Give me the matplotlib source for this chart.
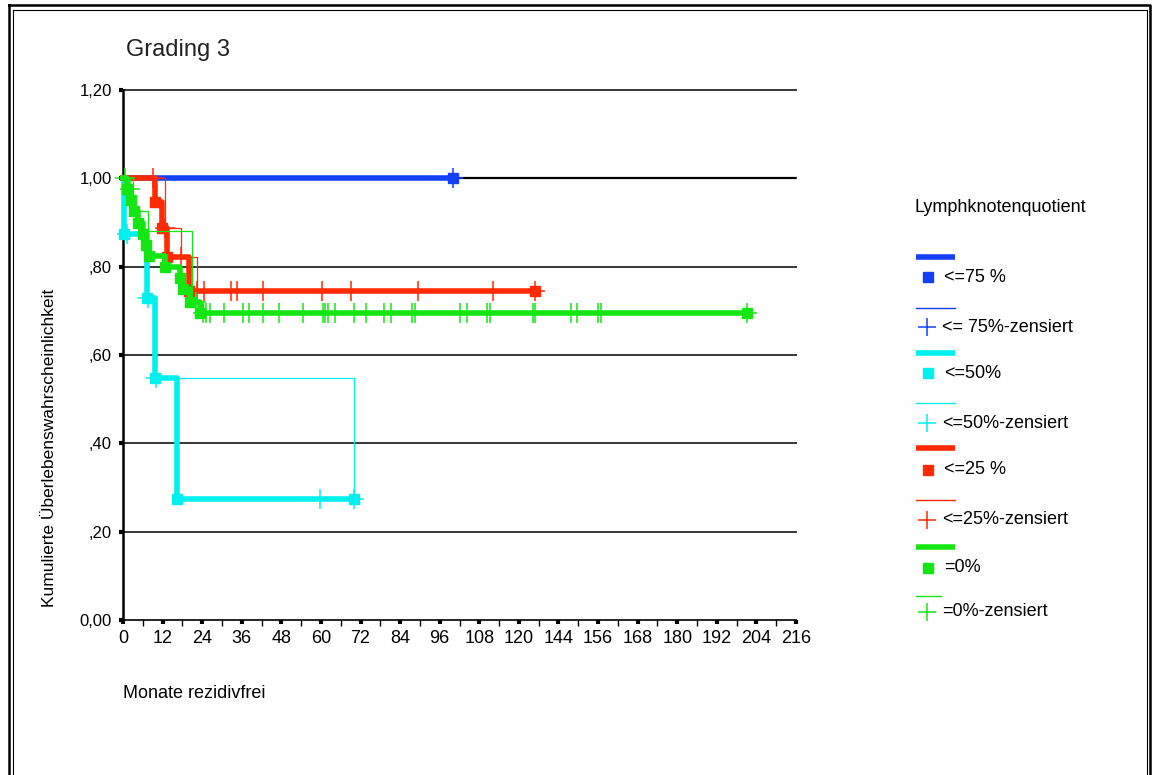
import numpy as np
import matplotlib.pyplot as plt

plt.rcParams['font.family'] = ['Liberation Sans', 'DejaVu Sans']

# Achsen
x_ticks = list(range(0, 205, 12))
x_ticklabels = ['0', '12', '24', '36', '48', '60', '72', '84', '96', '108', '120',
                '144', '156', '168', '180', '192', '204', '216']
y_ticks = [0.0, 0.2, 0.4, 0.6, 0.8, 1.0, 1.2]
y_ticklabels = ['0,00', ',20', ',40', ',60', ',80', '1,00', '1,20']

# <=75 %
blau_t = [0, 100.0]
blau_s = [1.0, 1.0]
blau_dunn_t = [0, 100.0]
blau_dunn_s = [1.0, 1.0]
blau_zens_t = [100.0]
blau_zens_s = [1.0]

# <=50%
cyan_t = [0, 0.3, 7.3, 9.8, 16.4, 70.0]
cyan_s = [1.0, 0.875, 0.729, 0.547, 0.273, 0.273]
cyan_dunn_t = [1.2, 7.6, 10.0, 70.0]
cyan_dunn_s = [0.875, 0.729, 0.547, 0.273]
cyan_zens_t = [1.2, 7.6, 10.0, 59.7, 70.0]
cyan_zens_s = [0.875, 0.729, 0.547, 0.273, 0.273]

# <=25 %
rot_t = [0, 9.7, 11.8, 13.3, 20.0, 124.8]
rot_s = [1.0, 0.947, 0.888, 0.822, 0.744, 0.744]
rot_dunn_t = [0, 9.1, 12.8, 17.5, 22.5, 124.8]
rot_dunn_s = [1.0, 1.0, 0.888, 0.822, 0.744, 0.744]
rot_zens_t = [9.1, 12.8, 17.5, 22.5, 24.5, 32.7, 34.5, 42.4, 60.3, 69.1, 89.4, 112.1, 124.8]
rot_zens_s = [1.0, 0.888, 0.822, 0.744, 0.744, 0.744, 0.744, 0.744, 0.744, 0.744,
              0.744, 0.744, 0.744]

# =0%
gruen_t = [0, 1.2, 2.4, 3.3, 4.5, 6.1, 7.0, 7.9, 12.7, 17.3, 18.2, 20.3, 23.3, 189.1]
gruen_s = [1.0, 0.975, 0.95, 0.925, 0.90, 0.875, 0.85, 0.825, 0.80, 0.775, 0.75,
           0.72, 0.695, 0.695]
gruen_dunn_t = [0.5, 3.0, 7.5, 21.0, 24.2, 189.1]
gruen_dunn_s = [1.0, 0.925, 0.88, 0.72, 0.695, 0.695]
gruen_zens_t = [0.5, 2.0, 22.0, 24.2, 25.2, 26.4, 30.6, 36.4, 38.2, 42.4, 47.3, 54.6,
                60.6, 61.2, 62.1, 64.3, 70.0, 73.7, 79.1, 81.2, 87.6, 88.5, 102.2,
                104.3, 110.3, 111.2, 124.3, 124.9, 135.8, 137.6, 144.0, 144.9, 189.1]
gruen_zens_s = [1.0, 0.975, 0.72] + [0.695] * 30

blau = '#1440f5'
cyan = '#00f0f0'
rot = '#ff2a00'
gruen = '#14e614'

fig = plt.figure(figsize=(11.54, 7.75), dpi=100)

# Hintergrund-Achse in Pixelkoordinaten (Rahmen, Texte, Legende)
lax = fig.add_axes([0, 0, 1, 1])
lax.set_xlim(0, 1154)
lax.set_ylim(775, 0)
lax.axis('off')
lax.plot([9, 1150, 1150, 9, 9], [5, 5, 800, 800, 5], color='black', lw=1.8, clip_on=False)
lax.plot([12.5, 1146.5, 1146.5, 12.5, 12.5], [9.5, 9.5, 800, 800, 9.5], color='black',
         lw=0.8, clip_on=False)

lax.text(126, 50, 'Grading 3', fontsize=17, ha='left', va='center', color='#222222')
lax.text(123, 693, 'Monate rezidivfrei', fontsize=13, ha='left', va='center')
lax.text(50, 448, 'Kumulierte Überlebenswahrscheinlichkeit', fontsize=12.5,
         rotation=90, ha='center', va='center')

# Legende
lax.text(915, 208, 'Lymphknotenquotient', fontsize=13, ha='left', va='center')
legende = [
    (blau, 257, 277, '<=75 %', 308, 327, '<= 75%-zensiert', 955),
    (cyan, 353, 373, '<=50%', 403, 423, '<=50%-zensiert', 955),
    (rot, 448, 470, '<=25 %', 500, 520, '<=25%-zensiert', 955),
    (gruen, 547, 568, '=0%', 596, 612, '=0%-zensiert', 941),
]
for c, y1, y2, txt1, y3, y4, txt2, xe in legende:
    lax.plot([916, 955], [y1, y1], color=c, lw=4, solid_capstyle='butt')
    lax.plot([928], [y2], 's', color=c, ms=6.5)
    lax.text(944, y2, txt1, fontsize=13, ha='left', va='center')
    lax.plot([916, xe], [y3, y3], color=c, lw=1)
    lax.plot([927], [y4], '+', color=c, ms=13, mew=1.1)
    lax.text(942, y4, txt2, fontsize=13, ha='left', va='center')

# Diagramm
ax = fig.add_axes([123 / 1154, 1 - 620 / 775, (796 - 123) / 1154, 530 / 775])
ax.set_facecolor('none')
ax.set_xlim(0, 204)
ax.set_ylim(0, 1.2)
ax.hlines(y_ticks[1:], 0, 204.3, color='black', lw=1.1, zorder=1, clip_on=False)
ax.axhline(1.0, color='black', lw=1.6, zorder=1)

gruppen = [
    (blau_t, blau_s, blau_dunn_t, blau_dunn_s, blau_zens_t, blau_zens_s, blau),
    (cyan_t, cyan_s, cyan_dunn_t, cyan_dunn_s, cyan_zens_t, cyan_zens_s, cyan),
    (rot_t, rot_s, rot_dunn_t, rot_dunn_s, rot_zens_t, rot_zens_s, rot),
    (gruen_t, gruen_s, gruen_dunn_t, gruen_dunn_s, gruen_zens_t, gruen_zens_s, gruen),
]
z = 3
for t, s, dt, ds, zt, zs, c in gruppen:
    ax.step(dt, ds, where='post', color=c, lw=0.9, zorder=z, clip_on=False)
    ax.step(t, s, where='post', color=c, lw=4, zorder=z + 1, clip_on=False)
    ev_t = [t[i] for i in range(1, len(t)) if s[i] < s[i - 1]] + [t[-1]]
    ev_s = [s[i] for i in range(1, len(t)) if s[i] < s[i - 1]] + [s[-1]]
    ax.plot(ev_t, ev_s, 's', color=c, ms=7, zorder=z + 2, clip_on=False)
    ax.plot(zt, zs, '+', color=c, ms=15, mew=1.1, zorder=z + 2, clip_on=False)
    z += 3

for sp in ['top', 'right']:
    ax.spines[sp].set_visible(False)
ax.spines['left'].set_linewidth(1.8)
ax.spines['bottom'].set_linewidth(1.2)

ax.set_xticks(x_ticks)
ax.set_xticklabels(x_ticklabels, fontsize=13)
ax.set_xticks(np.arange(6, 204, 12), minor=True)
ax.set_yticks(y_ticks)
ax.set_yticklabels(y_ticklabels, fontsize=12)
ax.tick_params(axis='x', which='major', length=3, width=3, pad=4)
ax.tick_params(axis='x', which='minor', length=4, width=1)
ax.tick_params(axis='y', which='major', length=3, width=3, pad=5)

fig.savefig('out.png', dpi=100)
